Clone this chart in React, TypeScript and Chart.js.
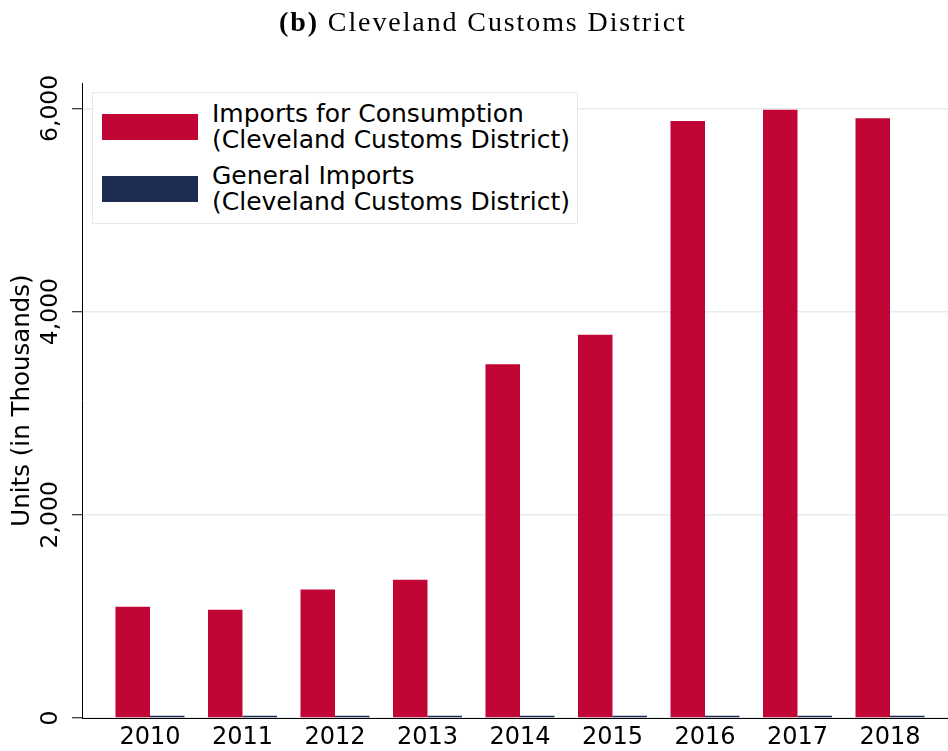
import React, { useEffect, useRef } from 'react';
import { Chart, registerables } from 'chart.js';

Chart.register(...registerables);

// values (thousands of units)
const years = [2010, 2011, 2012, 2013, 2014, 2015, 2016, 2017, 2018];
const importsForConsumption = [1095, 1065, 1265, 1360, 3482, 3773, 5875, 5986, 5904];
const generalImports = [22, 22, 22, 22, 22, 22, 22, 22, 22];
const yTicks = [0, 2000, 4000, 6000];

const consumptionLabel = ['Imports for Consumption', '(Cleveland Customs District)'];
const generalLabel = ['General Imports', '(Cleveland Customs District)'];

const series = [
	{ label: consumptionLabel, data: importsForConsumption, color: '#c10534' },
	{ label: generalLabel, data: generalImports, color: '#1f2c52' },
];

const FONT = 'DejaVu Sans';

export default function App() {
	const canvas = useRef<HTMLCanvasElement>(null!);

	useEffect(() => {
		const chart = new Chart(canvas.current, {
			type: 'bar',
			data: {
				datasets: series.map(s => ({
					label: s.label.join(' '),
					data: years.map((year, i) => ({ x: year, y: s.data[i] })),
					backgroundColor: s.color,
					borderWidth: 0,
					categoryPercentage: 0.746,
					barPercentage: 1,
				})),
			},
			options: {
				animation: false,
				responsive: true,
				maintainAspectRatio: false,
				layout: { padding: { top: 83, right: 0, bottom: 0, left: 0 } },
				plugins: {
					legend: { display: false },
					tooltip: { enabled: false },
				},
				scales: {
					x: {
						type: 'linear',
						offset: false,
						min: 2009.265,
						max: 2018.627,
						afterBuildTicks: (s: any) => { s.ticks = years.map(v => ({ value: v })); },
						afterFit: (s: any) => { s.height = 33; },
						grid: { display: false, drawTicks: false, offset: false },
						border: { display: true, color: '#000', width: 1 },
						ticks: {
							font: { family: FONT, size: 24 },
							color: '#000',
							padding: 5,
							maxRotation: 0,
							autoSkip: false,
							callback: (v: any) => String(v),
						},
					},
					y: {
						min: 0,
						max: 6250,
						afterBuildTicks: (s: any) => { s.ticks = yTicks.map(v => ({ value: v })); },
						afterFit: (s: any) => { s.width = 82; },
						grid: { color: '#e6edf0', lineWidth: 1.5, tickColor: '#000', tickLength: 10, tickWidth: 1 },
						border: { display: true, color: '#000', width: 1 },
						ticks: {
							font: { family: FONT, size: 23.5 },
							color: '#000',
							minRotation: 90,
							maxRotation: 90,
							crossAlign: 'center',
							padding: -13,
							callback: (v: any) => Number(v).toLocaleString('en-US'),
						},
						title: {
							display: true,
							text: 'Units (in Thousands)',
							font: { family: FONT, size: 24.5 },
							color: '#000',
							padding: { top: 8, bottom: 0 },
						},
					},
				},
			},
		} as any);

		return () => {
			chart.destroy();
		};
	}, []);

	return <div style={{ position: 'absolute', left: 0, top: 0, width: 948, height: 751, background: '#fff' }}>
		<div style={{ position: 'absolute', left: 0, top: 0, width: 948, height: 751 }}>
			<canvas ref={canvas}></canvas>
		</div>
		<div style={{ position: 'absolute', left: 279, top: 7, whiteSpace: 'nowrap', fontFamily: 'Liberation Serif', fontSize: 28, lineHeight: '30px', letterSpacing: 1.9, color: '#000' }}>
			<b>(b)</b> Cleveland Customs District
		</div>
		<div style={{
			position: 'absolute', left: 92, top: 92, width: 486, height: 132, boxSizing: 'border-box',
			border: '1px solid #e3eaee', background: '#fff', padding: '8px 0 0 9px',
			fontFamily: FONT, fontSize: 25, lineHeight: '26px', color: '#000',
		}}>
			{series.map((s, i) => (
				<div key={i} style={{ display: 'flex', alignItems: 'center', marginTop: i ? 10 : 0 }}>
					<div style={{ width: 96, height: 26, background: s.color, marginRight: 14, flexShrink: 0 }}></div>
					<div style={{ whiteSpace: 'nowrap' }}>
						{s.label.map((line, j) => <div key={j}>{line}</div>)}
					</div>
				</div>
			))}
		</div>
	</div>;
}
